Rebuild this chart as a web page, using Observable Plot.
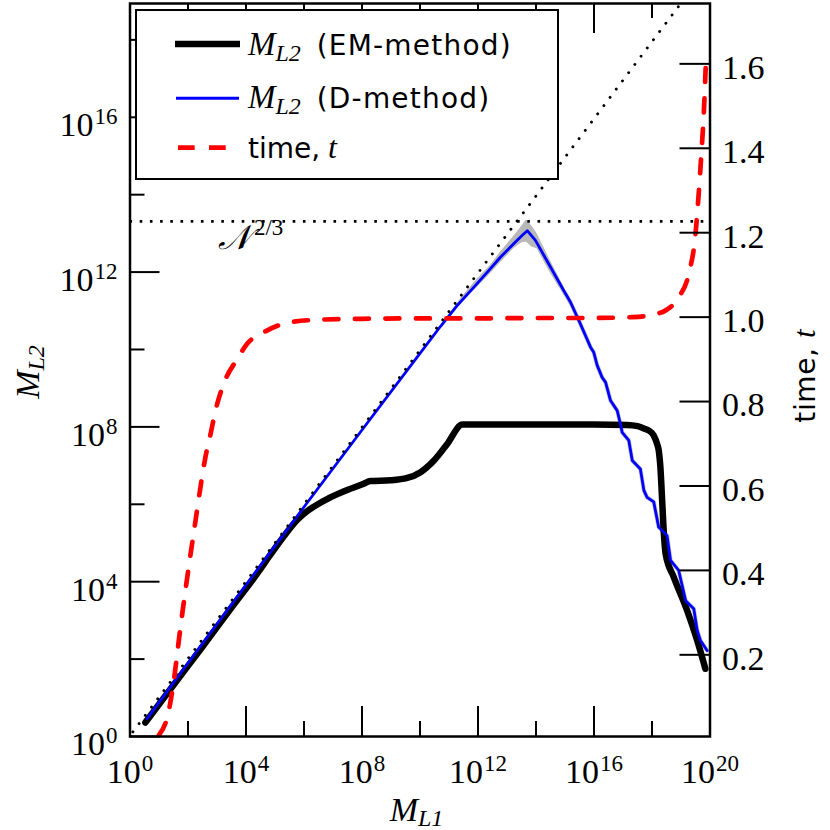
<!DOCTYPE html>
<html><head><meta charset="utf-8">
<script src="https://cdn.jsdelivr.net/npm/d3@7"></script>
<script src="https://cdn.jsdelivr.net/npm/@observablehq/plot@0.6"></script>
<style>
html,body{margin:0;padding:0;background:#fff;}
#wrap{position:relative;width:830px;height:830px;overflow:hidden;background:#fff;}
#wrap svg{position:absolute;left:0;top:0;}
</style></head><body><div id="wrap"></div>
<script>
// ---- data (log10 exponents of M_L1 / M_L2, time t linear) ----
const emLogX = [0.53,1.5,2.5,3.47,4.5,4.73,5.3,5.77,6.05,6.34,6.91,7.49,8.06,8.29,8.98,9.56,10.02,10.48,10.94,11.46,12.5,14.0,16.0,17.14,17.5,17.72,17.9,18.06,18.18,18.23,18.29,18.35,18.41,18.47,18.75,19.21,19.56,19.84];
const emLogY = [0.36,1.33,2.32,3.3,4.33,4.58,5.17,5.6,5.79,5.94,6.18,6.37,6.53,6.6,6.62,6.68,6.83,7.13,7.56,8.06,8.06,8.06,8.06,8.05,8.02,7.96,7.9,7.78,7.55,7.4,6.95,6.1,5.24,4.72,4.12,3.26,2.48,1.75];

const dLogX = [0.59,2,4,6,8,10,10.71,11.3,11.86,12.3,12.78,13.23,13.5,13.7,13.98,14.44,15.02,15.19,15.53,15.88,15.99,16.11,16.28,16.40,16.57,16.80,16.91,16.97,17.20,17.32,17.60,17.72,17.83,18.06,18.23,18.52,18.64,18.92,19.16,19.44,19.56,19.67,19.90];
const dLogY = [0.46,1.9,3.92,5.93,7.92,9.9,10.6,11.15,11.61,11.98,12.39,12.73,12.93,13.07,12.82,12.21,11.44,11.22,10.66,10.06,9.93,9.59,9.28,9.15,8.68,8.42,8.08,7.86,7.65,7.13,6.91,6.36,6.18,6.06,5.41,5.19,4.55,4.29,3.51,3.30,2.74,2.48,2.22];

const bandLogX  = [11.0,11.5,12.0,12.43,12.78,13.23,13.5,13.67,13.85,14.04,14.44,15.02,15.5];
const bandLogLo = [10.8,11.25,11.62,11.96,12.25,12.60,12.75,12.78,12.65,12.60,12.05,11.34,10.72];
const bandLogHi = [10.9,11.40,11.84,12.17,12.52,12.92,13.17,13.35,13.20,12.99,12.38,11.54,10.84];

const tLogX = [1.0,1.34,1.51,1.74,1.91,2.09,2.26,2.43,2.60,2.78,2.95,3.23,3.70,4.04,4.61,5.53,6.57,8,10,12,14,16,17.3,17.89,18.47,18.92,19.27,19.5,19.61,19.71,19.79,19.85];
const tVal  = [0.01,0.068,0.139,0.265,0.352,0.439,0.518,0.597,0.668,0.724,0.779,0.842,0.901,0.937,0.964,0.988,0.994,0.996,0.997,0.997,0.998,0.998,1.0,1.004,1.016,1.047,1.103,1.197,1.292,1.395,1.489,1.59];

const diagLogX = [0.1, 19.1];
const diagLogY = [0.12, 19.05];
const nLogLevel = 13.31;           // N^{2/3}
const nLabelLog = [3.05, 12.86];   // where the N^{2/3} label sits

const xMajorExp = [0,4,8,12,16,20];
const xMinorExp = [2,6,10,14,18];
const yMajorExp = [0,4,8,12,16];
const yMinorExp = [2,6,10,14,18];
const tTicks = [0.2,0.4,0.6,0.8,1.0,1.2,1.4,1.6];
const legendLabels = [["L2","(EM-method)"],["L2","(D-method)"],["time,","t"]];

// ---- build tables ----
const em = emLogX.map((e,i)=>({x:10**e, y:10**emLogY[i]}));
const dm = dLogX.map((e,i)=>({x:10**e, y:10**dLogY[i]}));
const band = bandLogX.map((e,i)=>({x:10**e, lo:10**bandLogLo[i], hi:10**bandLogHi[i]}));
const tm = tLogX.map((e,i)=>({x:10**e, t:tVal[i]}));
const diag = diagLogX.map((e,i)=>({x:10**e, y:10**diagLogY[i]}));

const W=830,H=830, mL=129.5, mR=120.5, mT=3, mB=94;
const plotW=W-mL-mR, plotH=H-mT-mB;
const SERIF="'Liberation Serif','Times New Roman',serif";
const SANS="'DejaVu Sans',sans-serif";
const p10 = e=>10**e;
const fmtPow = d=>"10^"+Math.round(Math.log10(d));

const plot1 = Plot.plot({
  width:W, height:H, marginLeft:mL, marginRight:mR, marginTop:mT, marginBottom:mB,
  style:{background:"transparent", overflow:"visible"},
  x:{type:"log", domain:[1,1e20]},
  y:{type:"log", domain:[1,10**18.94]},
  marks:[
    Plot.areaY(band,{x:"x", y1:"lo", y2:"hi", fill:"#b8b8b8"}),
    Plot.line(dm.filter(d=>d.x>=1e15),{x:"x", y:"y", stroke:"#c4c4c4", strokeWidth:4.2}),
    Plot.line(em,{x:"x", y:"y", stroke:"black", strokeWidth:6.5, curve:"monotone-x"}),
    Plot.line(dm,{x:"x", y:"y", stroke:"#0000ff", strokeWidth:2.8}),
    Plot.line(diag,{x:"x", y:"y", stroke:"black", strokeWidth:2.9, strokeDasharray:"0.01,10.3", strokeLinecap:"round", clip:true}),
    Plot.ruleY([10**nLogLevel],{stroke:"black", strokeWidth:2.6, strokeDasharray:"2.6,7.6"}),
    Plot.tickX(xMajorExp,{x:p10, insetTop:plotH-30, stroke:"black", strokeWidth:2}),
    Plot.tickX(xMinorExp,{x:p10, insetTop:plotH-15, stroke:"black", strokeWidth:2}),
    Plot.tickX(xMajorExp,{x:p10, insetBottom:plotH-30, stroke:"black", strokeWidth:2}),
    Plot.tickX(xMinorExp,{x:p10, insetBottom:plotH-15, stroke:"black", strokeWidth:2}),
    Plot.tickY(yMajorExp,{y:p10, insetRight:plotW-30, stroke:"black", strokeWidth:2}),
    Plot.tickY(yMinorExp,{y:p10, insetRight:plotW-15, stroke:"black", strokeWidth:2}),
    Plot.axisX(xMajorExp.map(p10),{anchor:"bottom", tickSize:0, tickPadding:22, tickFormat:fmtPow, label:null}),
    Plot.axisY(yMajorExp.map(p10),{anchor:"left", tickSize:0, tickPadding:12.5, dy:8, tickFormat:fmtPow, label:null})
  ]
});

const plot2 = Plot.plot({
  width:W, height:H, marginLeft:mL, marginRight:mR, marginTop:mT, marginBottom:mB,
  style:{background:"transparent", overflow:"visible"},
  x:{type:"log", domain:[1,1e20], axis:null},
  y:{domain:[0.0065,1.743]},
  marks:[
    Plot.line(tm,{x:"x", y:"t", stroke:"#ff0000", strokeWidth:4.7, strokeDasharray:"14,16.5", curve:"monotone-x"}),
    Plot.tickY(tTicks,{y:d=>d, insetLeft:plotW-30, stroke:"black", strokeWidth:2}),
    Plot.axisY(tTicks,{anchor:"right", tickSize:0, tickPadding:12, dy:4, tickFormat:d3.format(".1f"), label:null}),
    Plot.frame({stroke:"black", strokeWidth:2.5})
  ]
});

const wrap = document.getElementById("wrap");
wrap.appendChild(plot1);
wrap.appendChild(plot2);

// tick label fonts + superscript powers of ten
d3.selectAll("#wrap g[aria-label$='tick label'] text")
  .style("font-family", SERIF).style("font-size","34px");
d3.select(plot1).selectAll("g[aria-label$='tick label'] text").each(function(){
  const m = this.textContent.match(/^10\^(\d+)$/);
  if (m) {
    this.textContent = "10";
    d3.select(this).append("tspan").style("font-size","23px").attr("dx",1).attr("dy",-12).text(m[1]);
  }
});

// N^{2/3} label, placed through plot1's scales
{
  const sx = plot1.scale("x"), sy = plot1.scale("y");
  const px = sx.apply(10**nLabelLog[0]), py = sy.apply(10**nLabelLog[1]);
  const t = d3.select(plot1).append("text").attr("x",px).attr("y",py+11).attr("text-anchor","start");
  t.append("tspan").style("font-family","'DejaVu Serif',"+SERIF).style("font-style","italic").style("font-size","34px").text("𝒩");
  t.append("tspan").style("font-family",SERIF).style("font-size","23px").attr("dx",3).attr("dy",-14).text("2/3");
}

const s2 = d3.select(plot2);
// legend
const lg = s2.append("g").attr("text-anchor","start");
lg.append("rect").attr("x",136).attr("y",10).attr("width",422).attr("height",169)
  .attr("fill","white").attr("stroke","black").attr("stroke-width",2);
lg.append("line").attr("x1",175).attr("x2",240).attr("y1",44).attr("y2",44).attr("stroke","black").attr("stroke-width",6.5);
lg.append("line").attr("x1",176).attr("x2",239).attr("y1",98.3).attr("y2",98.3).attr("stroke","#0000ff").attr("stroke-width",3);
lg.append("line").attr("x1",178).attr("x2",226).attr("y1",147.7).attr("y2",147.7).attr("stroke","#ff0000").attr("stroke-width",4.7).attr("stroke-dasharray","16.7,14.3");

function mRow(y, sub, rest){
  const t = lg.append("text").attr("x",248).attr("y",y).attr("text-anchor","start");
  t.append("tspan").style("font-family",SERIF).style("font-style","italic").style("font-size","33px").text("M");
  t.append("tspan").style("font-family",SERIF).style("font-style","italic").style("font-size","24px").attr("dy",6).text(sub);
  t.append("tspan").attr("x",316.7).attr("y",y).style("font-family",SANS).style("font-size","28px").style("letter-spacing","1.2px").text(rest);
}
mRow(55, legendLabels[0][0], legendLabels[0][1]);
mRow(108.3, legendLabels[1][0], legendLabels[1][1]);
{
  const t = lg.append("text").attr("x",248).attr("y",158.3).attr("text-anchor","start");
  t.append("tspan").style("font-family",SANS).style("font-size","28px").text(legendLabels[2][0]);
  t.append("tspan").attr("x",328).style("font-family",SERIF).style("font-style","italic").style("font-size","32px").text(legendLabels[2][1]);
}

// axis titles
{
  const t = s2.append("text").attr("x",416.5).attr("y",821).attr("text-anchor","middle");
  t.append("tspan").style("font-family",SERIF).style("font-style","italic").style("font-size","34px").text("M");
  t.append("tspan").style("font-family",SERIF).style("font-style","italic").style("font-size","24px").attr("dy",5).text("L1");
}
{
  const t = s2.append("text").attr("transform","translate(39,372) rotate(-90)").attr("text-anchor","middle");
  t.append("tspan").style("font-family",SERIF).style("font-style","italic").style("font-size","34px").text("M");
  t.append("tspan").style("font-family",SERIF).style("font-style","italic").style("font-size","24px").attr("dy",5).text("L2");
}
{
  const t = s2.append("text").attr("transform","translate(815,376) rotate(-90)").attr("text-anchor","middle");
  t.append("tspan").style("font-family",SANS).style("font-size","28px").style("letter-spacing","0.6px").text("time, ");
  t.append("tspan").style("font-family",SERIF).style("font-style","italic").style("font-size","31px").text("t");
}
</script></body></html>
